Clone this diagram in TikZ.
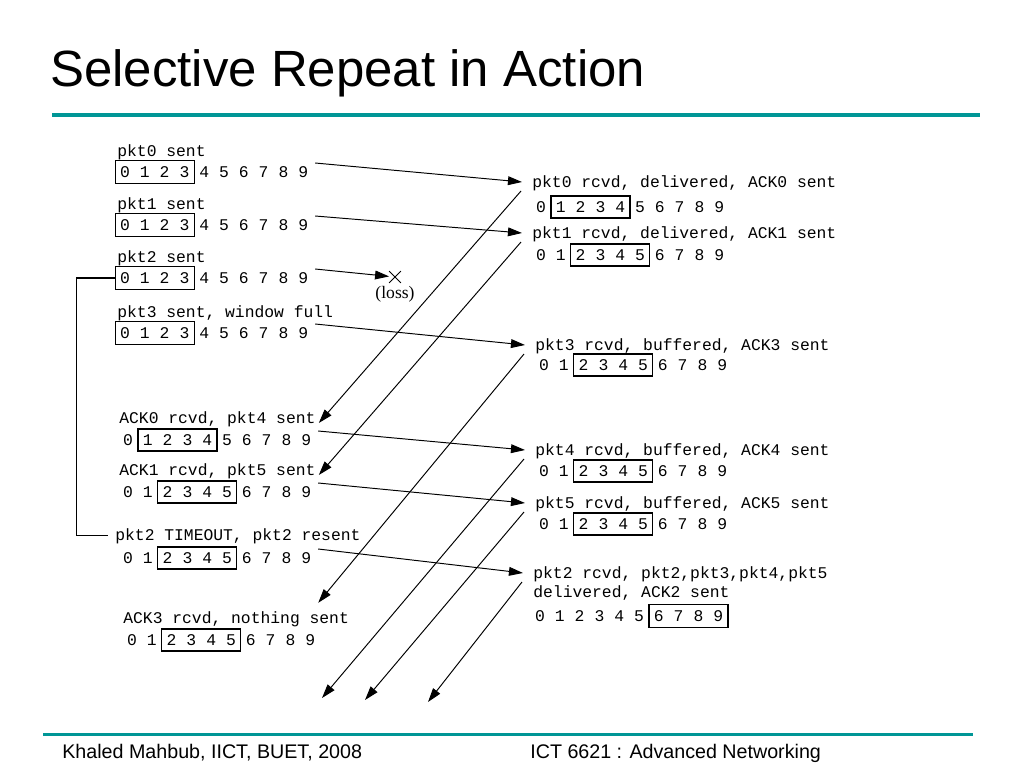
\documentclass[tikz,border=0pt]{standalone}
\usepackage{fontspec}
\setmainfont{Liberation Sans}
\newfontfamily\pktfont{Liberation Mono}
\newfontfamily\lossfont{Liberation Serif}
\usetikzlibrary{arrows.meta,positioning,fit,calc,shapes.misc}
\definecolor{slideteal}{RGB}{0,150,150}

% one window row: digits 0..9, box round digits #4..#5
\newcommand{\winrow}[5]{%
  \foreach \d in {0,...,9}
    \node[digit] (#1-\d) at ({#2+19.8*\d},#3) {\d};
  \node[winbox, fit=(#1-#4)(#1-#5)] (#1-box) {};
}

\begin{document}
\begin{tikzpicture}[x=0.02cm, y=-0.02cm,
  lbl/.style={font=\pktfont\fontsize{9.3}{10}\selectfont, anchor=base west, inner sep=0pt},
  digit/.style={font=\pktfont\fontsize{9.3}{10}\selectfont, inner sep=0pt},
  winbox/.style={draw, line width=0.7pt, inner xsep=2.6pt, inner ysep=3pt},
  pkt/.style={-{Triangle[length=8pt,width=5pt]}, line width=0.55pt}]
  \useasboundingbox (0,0) rectangle (1024,768);
  % title and rules
  \node[anchor=base west, inner sep=0pt, font=\fontsize{29}{34}\selectfont] (title) at (50,86) {Selective Repeat in Action};
  \draw[slideteal, line width=2pt] (52,115) -- (980,115);
  \draw[slideteal, line width=1.7pt] (43,734) -- (973,734);
  \node[anchor=base west, inner sep=0pt, font=\fontsize{11.2}{13}\selectfont] (author) at (62,758) {Khaled Mahbub, IICT, BUET, 2008};
  \node[anchor=base west, inner sep=0pt, font=\fontsize{11.2}{13}\selectfont] (course) at (530,758) {ICT 6621 : Advanced Networking};
  % sender side
  \node[lbl] (s1) at (117,156) {pkt0 sent};
  \winrow{w1}{125}{172}{0}{3}
  \node[lbl] (s2) at (117,209) {pkt1 sent};
  \winrow{w2}{125}{225}{0}{3}
  \node[lbl] (s3) at (117,262) {pkt2 sent};
  \winrow{w3}{125}{278}{0}{3}
  \node[lbl] (s4) at (117,317) {pkt3 sent, window full};
  \winrow{w4}{125}{333}{0}{3}
  \node[lbl] (s5) at (119,423) {ACK0 rcvd, pkt4 sent};
  \winrow{w5}{128}{440}{1}{4}
  \node[lbl] (s6) at (119,475) {ACK1 rcvd, pkt5 sent};
  \winrow{w6}{128}{492}{2}{5}
  \node[lbl] (s7) at (115,540) {pkt2 TIMEOUT, pkt2 resent};
  \winrow{w7}{128}{558}{2}{5}
  \node[lbl] (s8) at (123,623) {ACK3 rcvd, nothing sent};
  \winrow{w8}{132}{640}{2}{5}
  % receiver side
  \node[lbl] (r1) at (532,187) {pkt0 rcvd, delivered, ACK0 sent};
  \winrow{v1}{541}{207}{1}{4}
  \node[lbl] (r2) at (532,238) {pkt1 rcvd, delivered, ACK1 sent};
  \winrow{v2}{541}{255}{2}{5}
  \node[lbl] (r3) at (535,350) {pkt3 rcvd, buffered, ACK3 sent};
  \winrow{v3}{544}{365}{2}{5}
  \node[lbl] (r4) at (535,455) {pkt4 rcvd, buffered, ACK4 sent};
  \winrow{v4}{544}{471}{2}{5}
  \node[lbl] (r5) at (535,508) {pkt5 rcvd, buffered, ACK5 sent};
  \winrow{v5}{544}{524}{2}{5}
  \node[lbl] (r6) at (533,578) {pkt2 rcvd, pkt2,pkt3,pkt4,pkt5};
  \node[lbl] (r6b) at (533,597) {delivered, ACK2 sent};
  \winrow{v6}{540}{616}{6}{9}
  % lost packet
  \node[draw, cross out, minimum size=6.2pt, inner sep=0pt, line width=0.5pt] (lost) at (395,277) {};
  \node[below=2pt of lost, inner sep=0pt, font=\lossfont\fontsize{10}{12}\selectfont] (losslbl) {(loss)};
  % data packets
  \draw[pkt] ($(w1-9)+(12,-9)$) -- ($(r1.base west)+(-10,-5)$);
  \draw[pkt] ($(w2-9)+(12,-9)$) -- ($(r2.base west)+(-10,-5)$);
  \draw[pkt] ($(w3-9)+(12,-9)$) -- (lost);
  \draw[pkt] ($(w4-9)+(12,-9)$) -- ($(r3.base west)+(-10,-5)$);
  \draw[pkt] ($(w5-9)+(12,-9)$) -- ($(r4.base west)+(-10,-5)$);
  \draw[pkt] ($(w6-9)+(12,-9)$) -- ($(r5.base west)+(-10,-5)$);
  \draw[pkt] ($(w7-9)+(12,-9)$) -- ($(r6.base west)+(-10,-5)$);
  % acks
  \coordinate (tail4) at (322,698);
  \coordinate (tail5) at (365,700);
  \coordinate (tail2) at (428,702);
  \draw[pkt] ($(r1.base west)+(-11,4)$) -- ($(s5.base east)+(3,0)$);
  \draw[pkt] ($(r2.base west)+(-11,4)$) -- ($(s6.base east)+(3,0)$);
  \draw[pkt] ($(r3.base west)+(-11,4)$) -- ($(s8.north east)+(-31,-8)$);
  \draw[pkt] ($(r4.base west)+(-11,4)$) -- (tail4);
  \draw[pkt] ($(r5.base west)+(-11,4)$) -- (tail5);
  \draw[pkt] ($(r6.base west)+(-11,4)$) -- (tail2);
  % timeout bracket
  \draw[line width=0.8pt] (w3-box.west) -- ++(-38,0) |- ([xshift=-4pt]s7.west);
\end{tikzpicture}
\end{document}
